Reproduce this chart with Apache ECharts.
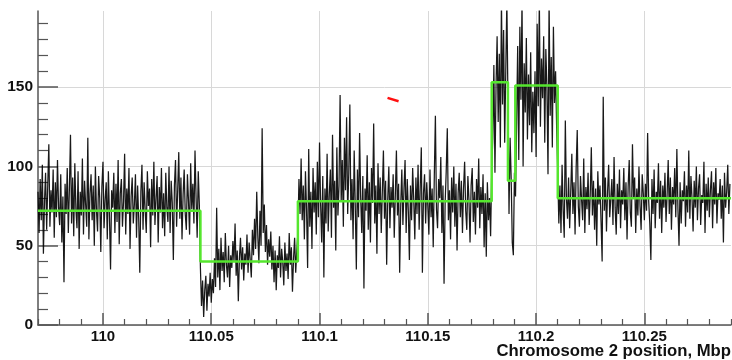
<!DOCTYPE html>
<html><head><meta charset="utf-8">
<script src="https://cdn.jsdelivr.net/npm/echarts@6/dist/echarts.min.js"></script>
<style>html,body{margin:0;padding:0;background:#fff}#c{width:732px;height:360px}</style>
</head><body><div id="c"></div>
<script>
// read-depth signal, sampled every 0.0005 Mbp starting at 109.970
const signalStart = 109.970;
const signalStep = 0.0005;
const seg1 = [
84,58,92,66,101,45,78,96,60,88,
114,62,85,71,98,55,90,68,104,74,
63,95,52,81,27,89,70,99,58,86,
120,64,93,56,102,73,61,97,48,84,
69,105,57,91,76,62,118,54,83,95,
66,88,50,100,72,59,94,80,46,87,
103,61,79,90,54,97,68,35,85,74,
96,58,89,65,104,51,83,92,62,78,
108,57,86,70,99,48,81,93,64,76,
95,55,88,67,33,84,101,60,90,72,
58,97,75,86,49,92,69,103,63,80,
94,52,87,71,99,61,83,56,96,74,
65,100,58,91,77,41,88,104,62,85,
109,67,93,54,82,98,70,60,95,78,
57,102,73,89,64,110,80,55,97,76];
const seg2 = [
36,12,28,5,22,31,9,26,18,33,
14,29,20,42,24,74,30,48,22,55,
34,46,27,58,38,30,50,24,44,36,
53,40,64,31,47,15,42,55,35,49,
28,45,38,57,33,52,41,30,60,44,
67,48,84,56,39,72,50,124,58,76,
46,63,38,54,43,59,35,50,27,47,
22,44,36,56,30,48,40,25,52,34,
45,29,58,38,49,21,42,55,33,47];
const seg3 = [
58,92,70,105,66,88,54,97,73,36,
111,62,84,48,99,71,90,57,103,68,
115,76,52,94,30,86,64,108,59,82,
98,55,120,74,91,47,112,69,88,145,
78,104,62,118,85,131,70,96,139,66,
92,54,110,75,35,98,68,121,80,58,
94,23,86,72,107,60,90,52,99,77,
127,64,88,45,102,70,93,58,84,110,
67,91,38,79,100,61,87,74,95,55,
82,110,69,89,33,76,98,63,86,104,
58,92,72,41,88,66,99,79,54,93,
70,101,60,87,112,33,83,95,64,90,
75,57,98,68,86,49,94,132,73,61,
92,80,106,58,88,26,77,97,124,66,
85,54,93,71,100,62,89,47,83,96,
68,91,58,86,103,72,60,94,79,52,
88,99,65,84,57,92,74,105,61,87,
70,95,49,83,43,90,66,80,56,97];
const seg4 = [
118,164,96,150,182,128,171,112,205,139,
186,115,160,205,142,
70,118,92,52,44,96,81,
128,176,104,188,142,205,100,165,
134,181,117,158,126,172,109,147,121,160,
106,190,138,205,125,168,143,182,115,174,
150,95,205,132,169,112,188,140,160,124];
const seg5 = [
96,64,88,58,101,72,55,129,80,67,
93,61,84,108,70,90,57,99,123,75,
62,94,79,66,105,58,87,73,96,63,
82,112,69,91,60,86,50,97,76,88,
65,40,144,72,93,59,84,101,68,80,
92,63,106,74,57,89,70,98,61,85,
76,99,66,90,54,87,104,71,62,114,
80,93,58,86,69,100,75,60,95,83,
66,89,72,121,78,64,41,92,70,98,
61,84,77,102,67,91,58,88,74,96,
65,82,104,70,93,60,87,76,99,68,
111,73,50,90,64,85,78,97,62,88,
71,110,67,94,80,59,91,74,100,66,
86,95,63,82,77,103,58,89,72,93,
68,85,97,61,90,76,99,64,83,79,
92,67,88,52,96,74,84,101,70,89];

// segmentation (step function): start position and level of each segment
const segStarts = [109.970, 110.045, 110.090, 110.1795, 110.187, 110.1904, 110.210, 110.290];
const segLevels = [72, 40, 78, 153, 91, 151, 80, 80];

// small red marker
const markX = [110.1314, 110.1365];
const markY = [143.2, 141.1];

const xMajorTicks = [110, 110.05, 110.1, 110.15, 110.2, 110.25];
const xMinorTicks = [109.97,109.98,109.99,110.01,110.02,110.03,110.04,110.06,110.07,110.08,110.09,
  110.11,110.12,110.13,110.14,110.16,110.17,110.18,110.19,110.21,110.22,110.23,110.24,110.26,110.27,110.28,110.29];
const yMajorTicks = [0, 50, 100, 150];
const yMinorTicks = [10,20,30,40,60,70,80,90,110,120,130,140,160,170,180,190];

const signal = seg1.concat(seg2, seg3, seg4, seg5);
const traceData = signal.map((v, i) => [+(signalStart + i * signalStep).toFixed(4), v]);
const stepData = segStarts.map((x, i) => [x, segLevels[i]]);
const markData = markX.map((x, i) => [x, markY[i]]);

const axisCol = '#555';
const font = 'Liberation Sans, Arial, sans-serif';
const chart = echarts.init(document.getElementById('c'), null, {renderer: 'canvas'});
chart.setOption({
  animation: false,
  backgroundColor: '#fff',
  grid: {left: 38, right: 1, top: 11, bottom: 35, containLabel: false},
  title: {
    text: 'Chromosome 2 position, Mbp', right: 1, top: 343,
    padding: 0,
    textStyle: {fontSize: 16.7, fontWeight: 'bold', color: '#111', fontFamily: font}
  },
  xAxis: [{
    type: 'value', min: 109.97, max: 110.29, position: 'bottom',
    axisLine: {show: true, onZero: false, lineStyle: {color: axisCol, width: 1.5}},
    axisTick: {show: true, inside: true, length: 12, customValues: xMajorTicks, lineStyle: {color: axisCol, width: 1.5}},
    axisLabel: {show: true, customValues: xMajorTicks, margin: 4, fontSize: 15, fontWeight: 'bold', color: '#111', fontFamily: font},
    splitLine: {show: true, lineStyle: {color: '#d8d8d8', width: 1}}
  }, {
    type: 'value', min: 109.97, max: 110.29, position: 'bottom',
    axisLine: {show: false, onZero: false},
    axisTick: {show: true, inside: true, length: 6, customValues: xMinorTicks, lineStyle: {color: axisCol, width: 1.2}},
    axisLabel: {show: false},
    splitLine: {show: false}
  }],
  yAxis: [{
    type: 'value', min: 0, max: 198, position: 'left',
    axisLine: {show: true, onZero: false, lineStyle: {color: axisCol, width: 1.5}},
    axisTick: {show: true, inside: true, length: 20, customValues: yMajorTicks, lineStyle: {color: axisCol, width: 1.5}},
    axisLabel: {show: true, customValues: yMajorTicks, margin: 5, fontSize: 15.5, fontWeight: 'bold', color: '#111', fontFamily: font},
    splitLine: {show: true, lineStyle: {color: '#d8d8d8', width: 1}}
  }, {
    type: 'value', min: 0, max: 198, position: 'left',
    axisLine: {show: false, onZero: false},
    axisTick: {show: true, inside: true, length: 10, customValues: yMinorTicks, lineStyle: {color: axisCol, width: 1.2}},
    axisLabel: {show: false},
    splitLine: {show: false}
  }],
  series: [{
    type: 'line', xAxisIndex: 0, yAxisIndex: 0, data: traceData,
    symbol: 'none', showSymbol: false, silent: true, clip: true,
    lineStyle: {color: '#000', width: 1.25, opacity: 0.9}
  }, {
    type: 'line', xAxisIndex: 0, yAxisIndex: 0, data: stepData, step: 'end',
    symbol: 'none', silent: true, clip: true,
    lineStyle: {color: '#55e62e', width: 2.5}
  }, {
    type: 'line', xAxisIndex: 0, yAxisIndex: 0, data: markData,
    symbol: 'none', silent: true,
    lineStyle: {color: '#ff1010', width: 2.5}
  }]
});
</script></body></html>
